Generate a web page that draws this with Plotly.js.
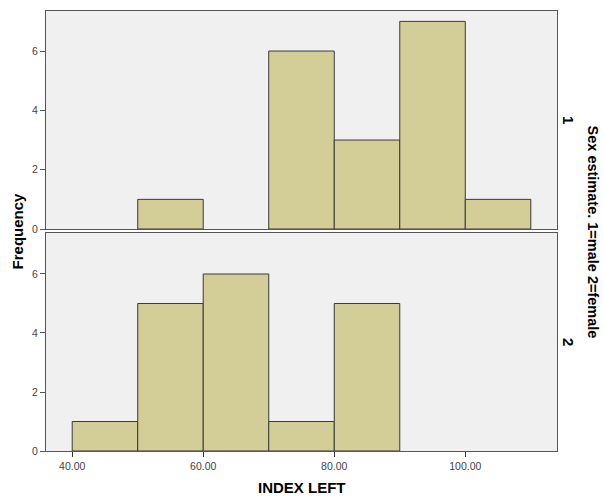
<!DOCTYPE html>
<html>
<head>
<meta charset="utf-8">
<script src="https://cdn.plot.ly/plotly-3.0.1.min.js"></script>
<style>body{margin:0;padding:0;background:#fff}</style>
</head>
<body>
<div id="chart" style="width:604px;height:496px"></div>
<script>
// Bin centers (INDEX LEFT), bin width 10
const binCenters = [45, 55, 65, 75, 85, 95, 105];
// Frequencies per bin
const male = [0, 1, 0, 6, 3, 7, 1];     // Sex estimate = 1
const female = [1, 5, 6, 1, 5, 0, 0];   // Sex estimate = 2
const xTickVals = [40, 60, 80, 100];
const xTickText = ["40.00", "60.00", "80.00", "100.00"];
const yTickVals = [0, 2, 4, 6];
const panelLabels = ["1", "2"];

function barTrace(counts, xa, ya) {
  return {
    type: 'bar',
    x: binCenters,
    y: counts,
    width: 10,
    xaxis: xa, yaxis: ya,
    marker: {color: '#d3ce98', line: {color: '#3a3a3a', width: counts.map(v => v > 0 ? 1 : 0)}},
    hoverinfo: 'skip'
  };
}

const data = [barTrace(male, 'x', 'y'), barTrace(female, 'x2', 'y2')];

const FAM = 'Liberation Sans, Arial, sans-serif';
const font = {family: FAM, size: 10.5, color: '#444'};
const frame = {showline: true, linecolor: '#555', linewidth: 1, mirror: true, zeroline: false, showgrid: false};
const titleFont = {family: FAM, size: 15, color: '#000'};

const layout = {
  width: 604, height: 496,
  margin: {l: 46, r: 47, t: 11, b: 45},
  paper_bgcolor: '#ffffff',
  plot_bgcolor: '#f0f0f0',
  showlegend: false,
  bargap: 0,
  font: font,
  xaxis: Object.assign({}, frame, {anchor: 'y', range: [36, 114], showticklabels: false, ticks: '', tickvals: xTickVals}),
  yaxis: Object.assign({}, frame, {domain: [0.5045, 1], range: [0, 7.35], tickvals: yTickVals, ticks: 'outside', ticklen: 5, tickcolor: '#555'}),
  xaxis2: Object.assign({}, frame, {anchor: 'y2', range: [36, 114], tickvals: xTickVals, ticktext: xTickText, ticks: 'outside', ticklen: 5, tickcolor: '#333'}),
  yaxis2: Object.assign({}, frame, {domain: [0, 0.4955], range: [0, 7.39], tickvals: yTickVals, ticks: 'outside', ticklen: 5, tickcolor: '#555'}),
  annotations: [
    {text: '<b>Frequency</b>', xref: 'paper', yref: 'paper', x: -0.055, y: 0.501, textangle: -90, showarrow: false, xanchor: 'center', yanchor: 'middle', font: titleFont},
    {text: '<b>INDEX LEFT</b>', xref: 'paper', yref: 'paper', x: 0.5, y: -0.082, showarrow: false, xanchor: 'center', yanchor: 'middle', font: titleFont},
    {text: '<b>' + panelLabels[0] + '</b>', xref: 'paper', yref: 'paper', x: 1.0215, y: 0.7525, textangle: 90, showarrow: false, xanchor: 'center', yanchor: 'middle', font: titleFont},
    {text: '<b>' + panelLabels[1] + '</b>', xref: 'paper', yref: 'paper', x: 1.0215, y: 0.2478, textangle: 90, showarrow: false, xanchor: 'center', yanchor: 'middle', font: titleFont},
    {text: '<b>Sex estimate. 1=male 2=female</b>', xref: 'paper', yref: 'paper', x: 1.07, y: 0.497, textangle: 90, showarrow: false, xanchor: 'center', yanchor: 'middle', font: {family: FAM, size: 14.5, color: '#000'}}
  ]
};

Plotly.newPlot('chart', data, layout, {displayModeBar: false, staticPlot: true});
</script>
</body>
</html>
